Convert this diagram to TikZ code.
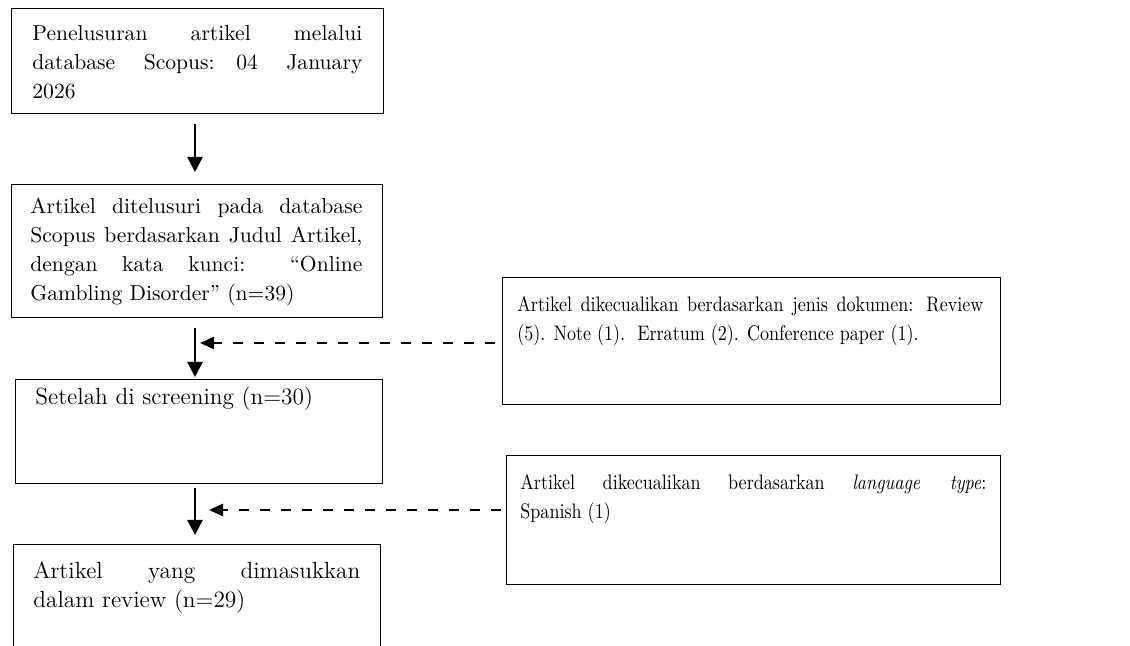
\documentclass[tikz,border=0pt]{standalone}
\usepackage{fontspec}
\usepackage{tikz}
\usetikzlibrary{arrows.meta,positioning}

\newfontfamily\sidefont{lmroman10-regular.otf}[FakeStretch=0.86,
  ItalicFont=lmroman10-italic.otf, BoldFont=lmroman10-bold.otf]

\tikzset{
  box/.style={draw, line width=0.7pt, anchor=north west, inner sep=0pt},
  boxtext/.style={anchor=north west, inner sep=0pt, align=justify,
    font=\fontsize{10.8}{14.5}\selectfont},
  bigtext/.style={boxtext, font=\fontsize{11.7}{14.5}\selectfont},
  sidetext/.style={anchor=north west, inner sep=0pt, align=justify,
    font=\sidefont\fontsize{10.5}{14.5}\selectfont},
  flow/.style={-{Triangle[length=7.5pt,width=7.5pt]}, line width=1.3pt},
  skip/.style={-{Triangle[length=7pt,width=6pt]}, line width=1.3pt,
    dash pattern=on 5pt off 5.5pt},
}

\begin{document}
\begin{tikzpicture}[x=0.5pt,y=-0.5pt]
                \useasboundingbox (0,0) rectangle (1130,646);
                % kotak kiri
                \node [box, minimum width=186pt, minimum height=52.5pt] (search) at (11,8) {};
                \node [boxtext, text width=165pt] (searchtxt) at (32,25) {Penelusuran artikel melalui\linebreak database Scopus:\quad 04 January\linebreak 2026};
                \node [box, minimum width=185.5pt, minimum height=66.5pt] (query) at (11,184) {};
                \node [boxtext, text width=166pt] (querytxt) at (30,198) {Artikel ditelusuri pada database\linebreak Scopus berdasarkan Judul Artikel,\linebreak dengan kata kunci: ``Online\linebreak Gambling Disorder'' (n=39)};
                \node [box, minimum width=183.5pt, minimum height=52pt] (screen) at (15,379) {};
                \node [bigtext, text width=160pt] (screentxt) at (35,387) {Setelah di screening (n=30)};
                \node [box, minimum width=183.5pt, minimum height=75pt] (incl) at (13,544) {};
                \node [bigtext, text width=163.5pt] (incltxt) at (33,561) {Artikel yang dimasukkan\linebreak dalam review (n=29)};
                % kotak kanan
                \node [box, minimum width=249pt, minimum height=63.5pt] (excl1) at (502,277) {};
                \node [sidetext, text width=233pt] (excl1txt) at (517,296) {Artikel dikecualikan berdasarkan jenis dokumen: Review\linebreak (5). Note (1).\ \ Erratum (2). Conference paper (1).};
                \node [box, minimum width=247pt, minimum height=64.5pt] (excl2) at (506,455) {};
                \node [sidetext, text width=233pt] (excl2txt) at (520,474) {Artikel dikecualikan berdasarkan \textit{language type}:\linebreak Spanish (1)};
                % panah
                \coordinate (hit1) at (200,343);
                \coordinate (hit2) at (209,510);
                \draw [flow, shorten <=5pt, shorten >=6pt] (search.south -| 195,0) -- (query.north -| 195,0);
                \draw [flow, shorten <=5pt, shorten >=1pt] (query.south -| 195,0) -- (screen.north -| 195,0);
                \draw [flow, shorten <=2pt, shorten >=4.5pt] (screen.south -| 195,0) -- (incl.north -| 195,0);
                \draw [skip, shorten <=3.5pt] (excl1.west |- hit1) -- (hit1);
                \draw [skip, shorten <=2.5pt] (excl2.west |- hit2) -- (hit2);
            \end{tikzpicture}
\end{document}
